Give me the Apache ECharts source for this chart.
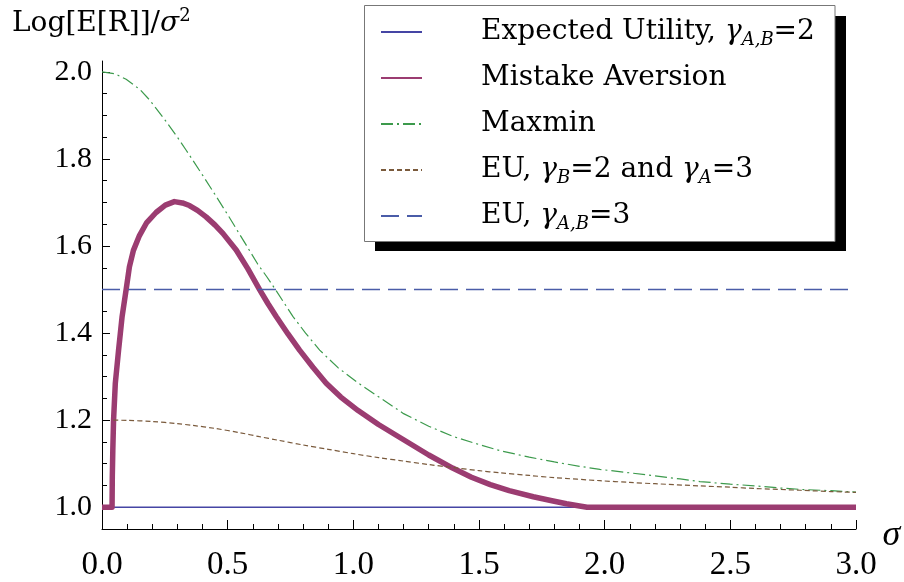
<!DOCTYPE html>
<html><head><meta charset="utf-8">
<script src="https://cdn.jsdelivr.net/npm/echarts@6/dist/echarts.min.js"></script>
<style>html,body{margin:0;padding:0;background:#fff}#c{width:904px;height:582px}</style>
</head><body><div id="c"></div>
<script>
// ---- data ----
const seriesNames = ['Expected Utility, γA,B=2', 'Mistake Aversion', 'Maxmin', 'EU, γB=2 and γA=3', 'EU, γA,B=3'];
const legendLabels = [
  'Expected Utility, {g|γ}{sub|A,B}=2',
  'Mistake Aversion',
  'Maxmin',
  'EU, {g|γ}{sub|B}=2 and {g|γ}{sub|A}=3',
  'EU, {g|γ}{sub|A,B}=3'
];
const flatSigma = [0, 3];
const euValues = [1.0, 1.0];
const eu3Values = [1.5, 1.5];

const maSigma = [0, 0.04, 0.041, 0.043, 0.046, 0.053, 0.066, 0.08, 0.096, 0.109, 0.125, 0.149, 0.178, 0.215, 0.252, 0.288, 0.32, 0.348, 0.38, 0.414, 0.45, 0.481, 0.534, 0.58, 0.627, 0.66, 0.693, 0.74, 0.786, 0.84, 0.892, 0.95, 1.019, 1.1, 1.2, 1.3, 1.395, 1.47, 1.545, 1.62, 1.716, 1.79, 1.848, 1.9, 1.93, 3.0];
const maValues = [1.0, 1.0, 1.07, 1.13, 1.2, 1.285, 1.361, 1.438, 1.5, 1.552, 1.59, 1.624, 1.654, 1.677, 1.694, 1.702, 1.699, 1.693, 1.682, 1.667, 1.648, 1.629, 1.591, 1.548, 1.5, 1.468, 1.438, 1.398, 1.361, 1.321, 1.285, 1.253, 1.222, 1.19, 1.155, 1.12, 1.09, 1.069, 1.052, 1.038, 1.024, 1.015, 1.008, 1.003, 1.0, 1.0];

const mmSigma = [0, 0.05, 0.096, 0.15, 0.19, 0.25, 0.3, 0.335, 0.4, 0.45, 0.5, 0.574, 0.62, 0.655, 0.69, 0.76, 0.81, 0.866, 0.94, 1.02, 1.1, 1.2, 1.3, 1.4, 1.5, 1.583, 1.7, 1.8, 1.9, 1.981, 2.1, 2.2, 2.3, 2.379, 2.5, 2.6, 2.7, 2.778, 2.9, 3.0];
const mmValues = [2.0, 1.996, 1.983, 1.96, 1.935, 1.89, 1.85, 1.82, 1.763, 1.718, 1.672, 1.602, 1.558, 1.53, 1.5, 1.438, 1.4, 1.361, 1.32, 1.285, 1.254, 1.215, 1.186, 1.162, 1.144, 1.13, 1.115, 1.104, 1.094, 1.087, 1.079, 1.072, 1.065, 1.059, 1.053, 1.049, 1.044, 1.041, 1.038, 1.035];

const mixSigma = [0.045, 0.1, 0.2, 0.3, 0.361, 0.45, 0.55, 0.627, 0.7, 0.8, 0.9, 1.0, 1.1, 1.2, 1.3, 1.4, 1.5, 1.583, 1.7, 1.8, 1.981, 2.1, 2.2, 2.379, 2.5, 2.6, 2.778, 2.9, 3.0];
const mixValues = [1.2, 1.1995, 1.197, 1.192, 1.188, 1.181, 1.171, 1.162, 1.154, 1.143, 1.133, 1.123, 1.114, 1.106, 1.098, 1.091, 1.084, 1.079, 1.073, 1.068, 1.061, 1.057, 1.054, 1.049, 1.046, 1.043, 1.039, 1.036, 1.034];

const yLabelTicks = [1.0, 1.2, 1.4, 1.6, 1.8, 2.0];
const yMinorTicks = [1.0, 1.05, 1.1, 1.15, 1.2, 1.25, 1.3, 1.35, 1.4, 1.45, 1.5, 1.55, 1.6, 1.65, 1.7, 1.75, 1.8, 1.85, 1.9, 1.95, 2.0];

const pairs = (xs, ys) => xs.map((x, i) => [x, ys[i]]);

// ---- chart ----
const TIMES = 'Liberation Serif';
const SERIF = 'DejaVu Serif';
const chart = echarts.init(document.getElementById('c'));
const tickStyle = {color: '#000', width: 1};
chart.setOption({
  animation: false,
  backgroundColor: '#fff',
  textStyle: {fontFamily: TIMES, color: '#000'},
  title: {
    text: 'Log[E[R]]/{i|σ}{sup|2}',
    left: 12, top: 7, padding: 0,
    textStyle: {
      fontFamily: SERIF, fontSize: 28, fontWeight: 'normal', color: '#000', lineHeight: 34,
      rich: {
        i: {fontFamily: SERIF, fontStyle: 'italic', fontSize: 28, lineHeight: 34, color: '#000'},
        sup: {fontFamily: SERIF, fontSize: 18, lineHeight: 18, verticalAlign: 'top', color: '#000'}
      }
    }
  },
  grid: {left: 102, right: 48, top: 61, bottom: 53, containLabel: false},
  xAxis: {
    type: 'value', min: 0, max: 3, interval: 0.5,
    axisLine: {lineStyle: tickStyle},
    axisTick: {inside: true, length: 9, lineStyle: tickStyle},
    minorTick: {show: true, splitNumber: 5, length: 5, lineStyle: tickStyle},
    splitLine: {show: false}, minorSplitLine: {show: false},
    axisLabel: {
      formatter: v => '{t|' + v.toFixed(1) + '}', margin: 20,
      fontFamily: TIMES, fontSize: 33, color: '#000',
      rich: {t: {fontFamily: TIMES, fontSize: 33, color: '#000'}}
    },
    name: '{s|σ}', nameLocation: 'end', nameGap: 26,
    nameTextStyle: {fontFamily: TIMES, fontStyle: 'italic', fontSize: 34, color: '#000',
      rich: {s: {fontFamily: TIMES, fontStyle: 'italic', fontSize: 36, color: '#000', padding: [14, 0, 0, 0]}}}
  },
  yAxis: [
    {
      type: 'value', min: 0.95, max: 2.025, position: 'left',
      axisLine: {show: true, lineStyle: tickStyle},
      axisTick: {show: true, inside: true, length: 5, customValues: yMinorTicks, lineStyle: tickStyle},
      axisLabel: {show: false},
      splitLine: {show: false}
    },
    {
      type: 'value', min: 0.95, max: 2.025, position: 'left',
      axisLine: {show: false},
      axisTick: {show: true, inside: true, length: 8, customValues: yLabelTicks, lineStyle: tickStyle},
      axisLabel: {
        customValues: yLabelTicks, formatter: v => '{t|' + v.toFixed(1) + '}', margin: 10,
        fontFamily: TIMES, fontSize: 30, color: '#000',
        rich: {t: {fontFamily: TIMES, fontSize: 30, color: '#000'}}
      },
      splitLine: {show: false}
    }
  ],
  legend: {
    orient: 'vertical', left: 380, top: 15, padding: 0, z: 10,
    itemWidth: 41, itemHeight: 14, itemGap: 12, selectedMode: false,
    itemStyle: {opacity: 0, color: 'rgba(0,0,0,0)', borderWidth: 0},
    data: seriesNames,
    formatter: name => legendLabels[seriesNames.indexOf(name)],
    textStyle: {
      fontFamily: SERIF, fontSize: 28, color: '#000', lineHeight: 34, padding: [0, 0, 0, 54],
      rich: {
        g: {fontFamily: SERIF, fontStyle: 'italic', fontSize: 28, lineHeight: 34, color: '#000'},
        sub: {fontFamily: SERIF, fontStyle: 'italic', fontSize: 18, lineHeight: 17, verticalAlign: 'bottom', color: '#000'}
      }
    }
  },
  graphic: [
    {type: 'rect', silent: true, z: 5, shape: {x: 375, y: 16, width: 471, height: 235}, style: {fill: '#000'}},
    {type: 'rect', silent: true, z: 6, shape: {x: 364.5, y: 5.5, width: 470.5, height: 236}, style: {fill: '#fff', stroke: '#777', lineWidth: 1}}
  ],
  series: [
    {name: seriesNames[0], type: 'line', data: pairs(flatSigma, euValues), symbol: 'none', yAxisIndex: 0,
     lineStyle: {color: '#4545a4', width: 1.3, type: 'solid'}, itemStyle: {color: '#4545a4'}},
    {name: seriesNames[1], type: 'line', data: pairs(maSigma, maValues), symbol: 'none', yAxisIndex: 0, z: 3,
     lineStyle: {color: '#9b3c71', width: 5.5, type: 'solid', cap: 'butt', join: 'round'}, itemStyle: {color: '#9b3c71'}},
    {name: seriesNames[2], type: 'line', data: pairs(mmSigma, mmValues), symbol: 'none', yAxisIndex: 0,
     lineStyle: {color: '#3c9a4c', width: 1.2, type: [12, 4, 2, 4]}, itemStyle: {color: '#3c9a4c'}},
    {name: seriesNames[3], type: 'line', data: pairs(mixSigma, mixValues), symbol: 'none', yAxisIndex: 0, smooth: 0.3,
     lineStyle: {color: '#7a5a3c', width: 1.2, type: [5, 3]}, itemStyle: {color: '#7a5a3c'}},
    {name: seriesNames[4], type: 'line', data: pairs(flatSigma, eu3Values), symbol: 'none', yAxisIndex: 0,
     lineStyle: {color: '#4a5ca8', width: 1.5, type: [18, 8]}, itemStyle: {color: '#4a5ca8'}}
  ]
});
</script></body></html>
